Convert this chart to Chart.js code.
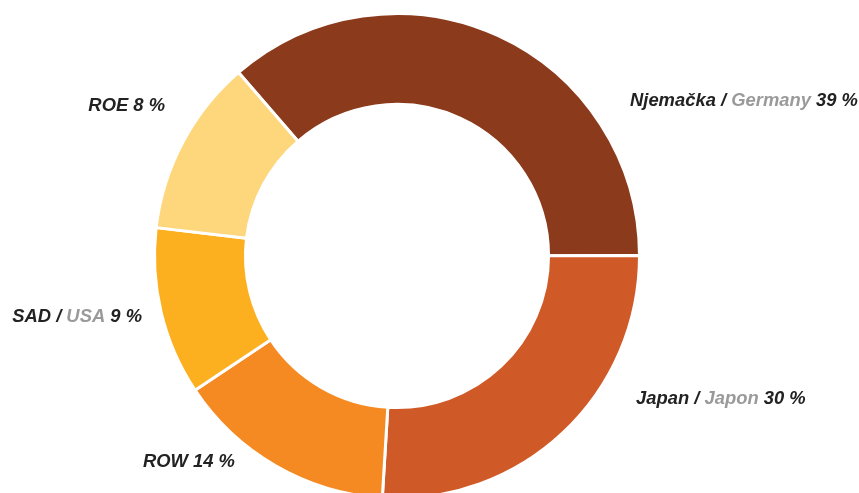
<!DOCTYPE html>
<html>
<head>
<meta charset="utf-8">
<script src="https://cdn.jsdelivr.net/npm/chart.js@4.4.0/dist/chart.umd.min.js"></script>
<style>
  html, body { margin: 0; padding: 0; background: #fff; overflow: hidden; }
  #wrap { position: absolute; left: 0; top: 0; width: 859px; height: 512px; }
</style>
</head>
<body>
<div id="wrap"><canvas id="chart"></canvas></div>
<script>
// slices, clockwise from the top-right
const categories = ['Njemačka', 'Japan', 'ROW', 'SAD', 'ROE'];
const altNames = ['Germany', 'Japon', '', 'USA', ''];
const percentLabels = ['39 %', '30 %', '14 %', '9 %', '8 %'];
// arc sizes as drawn in the picture (they don't add up to the printed labels)
const values = [36.3, 26.0, 14.7, 11.2, 11.8];
const colors = ['#8b3a1b', '#d05a27', '#f58a23', '#fcb01f', '#fed77d'];

// where each label sits, relative to the chart centre
const labelPos = [
  { dx: 233, dy: -150, align: 'left' },
  { dx: 239, dy: 148, align: 'left' },
  { dx: -254, dy: 211, align: 'left' },
  { dx: -255, dy: 66, align: 'right' },
  { dx: -232, dy: -145, align: 'right' }
];

const outsideLabels = {
  id: 'outsideLabels',
  afterDraw(chart) {
    const ctx = chart.ctx;
    const arc = chart.getDatasetMeta(0).data[0];
    const cx = arc.x, cy = arc.y;
    ctx.save();
    ctx.font = 'italic bold 18.4px "Liberation Sans", Arial, sans-serif';
    ctx.textBaseline = 'alphabetic';
    ctx.textAlign = 'left';
    categories.forEach((name, i) => {
      let parts;
      if (altNames[i]) {
        parts = [[name + ' / ', '#222'], [altNames[i], '#9a9a9a'], [' ' + percentLabels[i], '#222']];
      } else {
        parts = [[name + ' ' + percentLabels[i], '#222']];
      }
      const total = parts.reduce((s, p) => s + ctx.measureText(p[0]).width, 0);
      const p = labelPos[i];
      let x = cx + p.dx;
      if (p.align === 'right') x -= total;
      const y = cy + p.dy;
      parts.forEach(([txt, col]) => {
        ctx.fillStyle = col;
        ctx.fillText(txt, x, y);
        x += ctx.measureText(txt).width;
      });
    });
    ctx.restore();
  }
};

new Chart(document.getElementById('chart'), {
  type: 'doughnut',
  data: {
    labels: categories,
    datasets: [{
      data: values,
      backgroundColor: colors,
      borderColor: '#ffffff',
      borderWidth: 3,
      hoverOffset: 0
    }]
  },
  options: {
    responsive: true,
    maintainAspectRatio: false,
    animation: false,
    rotation: -40.8,
    cutout: '62.5%',
    layout: { padding: { left: 153, right: 218, top: 12, bottom: 12 } },
    plugins: {
      legend: { display: false },
      tooltip: { enabled: false }
    },
    events: []
  },
  plugins: [outsideLabels]
});
</script>
</body>
</html>
